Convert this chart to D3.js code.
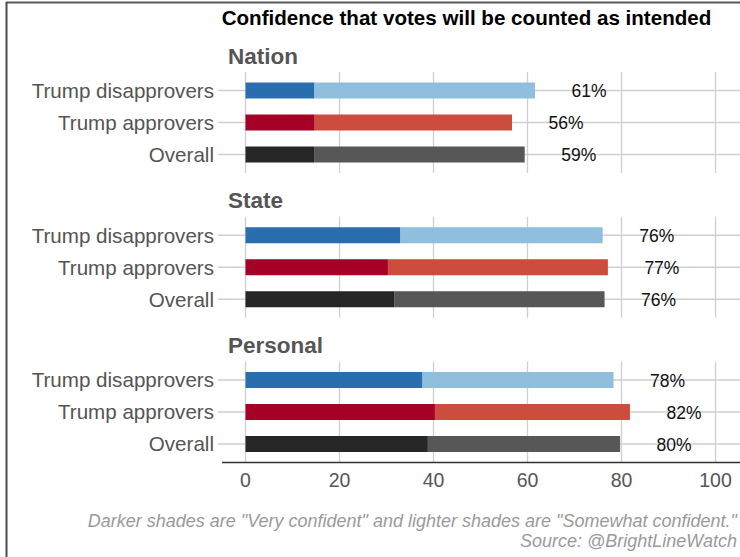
<!DOCTYPE html>
<html><head><meta charset="utf-8">
<script src="https://cdn.jsdelivr.net/npm/d3@7/dist/d3.min.js"></script>
<style>body{margin:0;background:#fff;} svg{display:block;font-family:"Liberation Sans",Arial,Helvetica,sans-serif;}</style>
</head><body>
<svg id="chart" width="740" height="557"></svg>
<script>
const panels = ["Nation", "State", "Personal"];
const groups = ["Trump disapprovers", "Trump approvers", "Overall"];
// Very confident share (darker) by panel, in group order
const veryConfident = [
  [14.6, 14.7, 14.6],
  [32.9, 30.3, 31.7],
  [37.6, 40.3, 38.8]
];
// Somewhat confident share (lighter)
const somewhatConfident = [
  [47.0, 42.0, 44.8],
  [43.1, 46.8, 44.7],
  [40.7, 41.5, 40.9]
];
const totalLabels = [
  ["61%", "56%", "59%"],
  ["76%", "77%", "76%"],
  ["78%", "82%", "80%"]
];
const xTicks = [0, 20, 40, 60, 80, 100];
const darkColors = ["#2b6eb0", "#a50026", "#262626"];
const lightColors = ["#8fbfdc", "#cc4c3e", "#575757"];

const svg = d3.select("#chart");
const W = 740, H = 557;
const panelLeft = 222, panelRight = 740;
const x = d3.scaleLinear().domain([0, 100]).range([245.5, 715.5]);
const panelCenter = d3.scalePoint().domain(panels).range([122.5, 412]);
const halfH = 50.5;

// border lines
svg.append("line").attr("x1", 6).attr("x2", W).attr("y1", 2.5).attr("y2", 2.5)
  .attr("stroke", "#5a5a5a").attr("stroke-width", 2);
svg.append("line").attr("x1", 6.5).attr("x2", 6.5).attr("y1", 2).attr("y2", H)
  .attr("stroke", "#4a4a4a").attr("stroke-width", 2);

// title
svg.append("text").attr("x", 466.5).attr("y", 25).attr("text-anchor", "middle")
  .attr("font-size", 20.6).attr("font-weight", "bold").attr("fill", "#000")
  .text("Confidence that votes will be counted as intended");

panels.forEach((p, pi) => {
  const c = panelCenter(p);
  const top = c - halfH, bottom = c + halfH;
  const y = d3.scalePoint().domain(groups).range([c - 32, c + 32]);
  const g = svg.append("g");

  // strip label
  g.append("text").attr("x", 228).attr("y", c - 59)
    .attr("font-size", 22.5).attr("font-weight", "bold").attr("fill", "#555")
    .text(p);

  // vertical grid
  g.selectAll(".vg").data(xTicks).join("line")
    .attr("x1", d => x(d)).attr("x2", d => x(d)).attr("y1", top).attr("y2", bottom)
    .attr("stroke", "#cfcfcf").attr("stroke-width", 1.3);
  // horizontal grid + ticks
  g.selectAll(".hg").data(groups).join("line")
    .attr("x1", 218).attr("x2", panelRight).attr("y1", d => y(d)).attr("y2", d => y(d))
    .attr("stroke", "#cfcfcf").attr("stroke-width", 1.3);

  // y labels
  g.selectAll(".yl").data(groups).join("text")
    .attr("x", 214).attr("y", d => y(d)).attr("dy", "0.36em")
    .attr("text-anchor", "end").attr("font-size", 20.6).attr("fill", "#555")
    .text(d => d);

  const bh = 16;
  // light bars (stacked after dark)
  g.selectAll(".lb").data(groups).join("rect")
    .attr("x", (d, i) => x(veryConfident[pi][i]))
    .attr("y", d => y(d) - bh / 2)
    .attr("width", (d, i) => x(veryConfident[pi][i] + somewhatConfident[pi][i]) - x(veryConfident[pi][i]))
    .attr("height", bh)
    .attr("fill", (d, i) => lightColors[i]);
  g.selectAll(".db").data(groups).join("rect")
    .attr("x", x(0))
    .attr("y", d => y(d) - bh / 2)
    .attr("width", (d, i) => x(veryConfident[pi][i]) - x(0))
    .attr("height", bh)
    .attr("fill", (d, i) => darkColors[i]);

  // value labels
  g.selectAll(".vl").data(groups).join("text")
    .attr("x", (d, i) => x(veryConfident[pi][i] + somewhatConfident[pi][i] + 11.5))
    .attr("y", d => y(d)).attr("dy", "0.38em")
    .attr("text-anchor", "middle").attr("font-size", 17.5).attr("fill", "#111")
    .text((d, i) => totalLabels[pi][i]);
});

// bottom axis
const axisY = panelCenter("Personal") + halfH;
svg.append("line").attr("x1", panelLeft).attr("x2", panelRight).attr("y1", axisY).attr("y2", axisY)
  .attr("stroke", "#333").attr("stroke-width", 1.6);
svg.selectAll(".xl").data(xTicks).join("text")
  .attr("x", d => x(d)).attr("y", axisY + 24)
  .attr("text-anchor", "middle").attr("font-size", 19.5).attr("fill", "#555")
  .text(d => d);

// caption
svg.append("text").attr("x", 737).attr("y", 527).attr("text-anchor", "end")
  .attr("font-size", 18).attr("font-style", "italic").attr("fill", "#9a9a9a")
  .text('Darker shades are "Very confident" and lighter shades are "Somewhat confident."');
svg.append("text").attr("x", 737).attr("y", 547).attr("text-anchor", "end")
  .attr("font-size", 18).attr("font-style", "italic").attr("fill", "#9a9a9a")
  .text("Source: @BrightLineWatch");
</script>
</body></html>
